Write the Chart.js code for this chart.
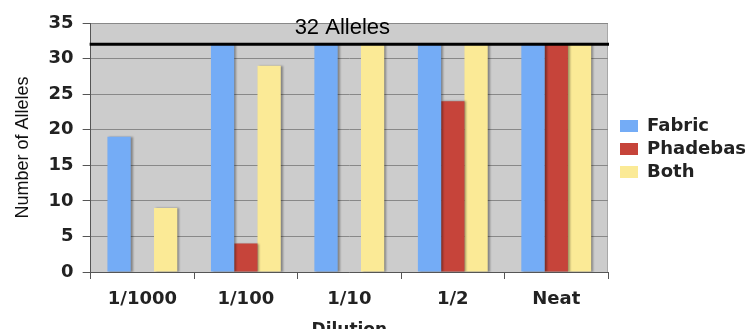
<!DOCTYPE html>
<html>
<head>
<meta charset="utf-8">
<script src="https://cdn.jsdelivr.net/npm/chart.js@4/dist/chart.umd.min.js"></script>
<style>
  html, body { margin: 0; padding: 0; background: #ffffff; }
  #wrap { width: 756px; height: 329px; position: relative; }
</style>
</head>
<body>
<div id="wrap"><canvas id="c" width="756" height="329"></canvas></div>
<script>
const categories = ['1/1000', '1/100', '1/10', '1/2', 'Neat'];
const fabric   = [19, 32, 32, 32, 32];
const phadebas = [0, 4, 0, 24, 32];
const both     = [9, 29, 32, 32, 32];
const seriesNames = ['Fabric', 'Phadebas', 'Both'];
const refValue = 32;
const refLabel = '32 Alleles';
const yMin = 0, yMax = 35, yStep = 5;

const FONT = '"DejaVu Sans", Verdana, sans-serif';

const plotBg = {
  id: 'plotBg',
  beforeDraw(chart) {
    const {ctx, chartArea: a} = chart;
    ctx.save();
    ctx.fillStyle = '#cccccc';
    ctx.fillRect(a.left, a.top, a.right - a.left, a.bottom - a.top);
    ctx.strokeStyle = '#a8a8a8';
    ctx.lineWidth = 1;
    ctx.beginPath();
    ctx.moveTo(a.left, a.top + 0.5);
    ctx.lineTo(a.right - 0.5, a.top + 0.5);
    ctx.lineTo(a.right - 0.5, a.bottom);
    ctx.stroke();
    ctx.restore();
  },
  beforeDatasetsDraw(chart) {
    const ctx = chart.ctx;
    ctx.save();
    ctx.shadowColor = 'rgba(0,0,0,0.35)';
    ctx.shadowOffsetX = 2;
    ctx.shadowOffsetY = 0;
    ctx.shadowBlur = 2;
  },
  afterDatasetsDraw(chart) {
    const {ctx, chartArea: a, scales} = chart;
    ctx.restore();
    const y = scales.y.getPixelForValue(refValue);
    ctx.save();
    ctx.strokeStyle = '#000000';
    ctx.lineWidth = 3;
    ctx.beginPath();
    ctx.moveTo(a.left - 1, y);
    ctx.lineTo(a.right + 1, y);
    ctx.stroke();
    ctx.fillStyle = '#000000';
    ctx.font = '22px "Liberation Sans", Arial, sans-serif';
    ctx.textAlign = 'center';
    ctx.textBaseline = 'middle';
    ctx.fillText(refLabel, (a.left + a.right) / 2 - 7, y - 16);
    ctx.restore();
  }
};

new Chart(document.getElementById('c'), {
  type: 'bar',
  data: {
    labels: categories,
    datasets: [
      { label: seriesNames[0], data: fabric,   backgroundColor: '#74acf6' },
      { label: seriesNames[1], data: phadebas, backgroundColor: '#c6443a' },
      { label: seriesNames[2], data: both,     backgroundColor: '#fbea96' }
    ]
  },
  options: {
    responsive: false,
    animation: false,
    datasets: { bar: { categoryPercentage: 0.675, barPercentage: 1.0 } },
    layout: { padding: { left: 4, top: 23, right: 0, bottom: -12 } },
    plugins: {
      tooltip: { enabled: false },
      legend: {
        position: 'right',
        align: 'start',
        maxWidth: 220,
        title: { display: true, text: ' ', font: { size: 10 }, padding: { top: 77, bottom: 0 } },
        labels: {
          boxWidth: 18, boxHeight: 12, padding: 5,
          color: '#222222',
          font: { family: FONT, size: 18, weight: 'bold' }
        }
      }
    },
    scales: {
      x: {
        grid: { display: true, drawOnChartArea: false, offset: true, tickLength: 7, tickColor: '#555555' },
        border: { color: '#555555', width: 1 },
        ticks: { color: '#222222', padding: 10, font: { family: FONT, size: 18, weight: 'bold' } },
        title: { display: true, text: 'Dilution', color: '#222222', padding: { top: 0, bottom: 0 },
                 font: { family: FONT, size: 17, weight: 'bold' } }
      },
      y: {
        min: yMin, max: yMax,
        grid: { color: '#888888', tickLength: 8, tickColor: '#555555' },
        border: { color: '#555555', width: 1 },
        ticks: { stepSize: yStep, color: '#222222', padding: 9, font: { family: FONT, size: 18, weight: 'bold' } },
        title: { display: true, text: 'Number of Alleles', color: '#111111', padding: { top: 8, bottom: 6 },
                 font: { family: '"Liberation Sans", Arial, sans-serif', size: 18 } }
      },
      yGap: {
        type: 'linear',
        position: 'right',
        display: true,
        grid: { display: false },
        border: { display: false },
        ticks: { display: false },
        afterFit(scale) { scale.width = 7; }
      }
    }
  },
  plugins: [plotBg]
});
</script>
</body>
</html>
